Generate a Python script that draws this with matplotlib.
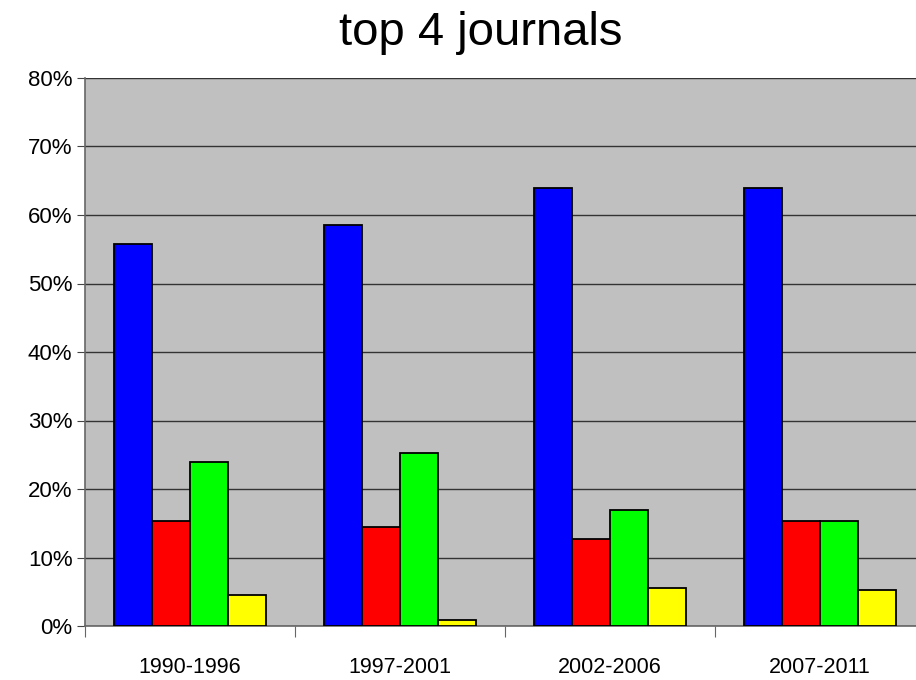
import numpy as np
import matplotlib
matplotlib.use("Agg")
import matplotlib.pyplot as plt
from matplotlib.ticker import FuncFormatter, MultipleLocator

# dữ liệu
periods = ["1990-1996", "1997-2001", "2002-2006", "2007-2011"]
blue_vals = [55.7, 58.6, 63.9, 63.9]
red_vals = [15.4, 14.4, 12.7, 15.4]
green_vals = [23.9, 25.3, 17.0, 15.4]
yellow_vals = [4.5, 0.9, 5.5, 5.2]

series = [blue_vals, red_vals, green_vals, yellow_vals]
colors = ["#0000ff", "#ff0000", "#00ff00", "#ffff00"]

plt.rcParams["font.family"] = ["Liberation Sans", "DejaVu Sans"]

W, H = 916, 680
fig = plt.figure(figsize=(W / 100, H / 100), dpi=100)
left, right, top, bottom = 85, 925, 78, 626
ax = fig.add_axes([left / W, 1 - bottom / H, (right - left) / W, (bottom - top) / H])
ax.set_facecolor("#c0c0c0")

x = np.arange(len(periods))
bw = 0.181
for i, (vals, c) in enumerate(zip(series, colors)):
    ax.bar(x + (i - 1.5) * bw, vals, width=bw, color=c, edgecolor="black",
           linewidth=1.3, zorder=3)

ax.set_xlim(-0.5, len(periods) - 0.5)
ax.set_ylim(0, 80)
ax.yaxis.set_major_locator(MultipleLocator(10))
ax.yaxis.set_major_formatter(FuncFormatter(lambda v, p: "%d%%" % v))
ax.grid(axis="y", color="#333333", linewidth=1.0, zorder=1)

# nhãn trục x ở giữa, vạch chia ở biên nhóm
ax.set_xticks(np.arange(len(periods) + 1) - 0.5)
ax.set_xticklabels([])
ax.set_xticks(x, minor=True)
ax.set_xticklabels(periods, minor=True, fontsize=15.5)
ax.tick_params(axis="x", which="minor", length=0, pad=22)
ax.tick_params(axis="x", which="major", length=8, color="#666666", direction="out")
ax.tick_params(axis="y", length=6, color="#444444", labelsize=16, pad=3)

for s in ["top", "right"]:
    ax.spines[s].set_visible(False)
ax.spines["left"].set_color("#666666")
ax.spines["bottom"].set_color("#666666")
ax.spines["left"].set_linewidth(1.2)
ax.spines["bottom"].set_linewidth(1.2)

fig.text(481 / W, 1 - 45 / H, "top 4 journals", fontsize=34, ha="center", va="baseline")

fig.savefig("out.png", dpi=100)
